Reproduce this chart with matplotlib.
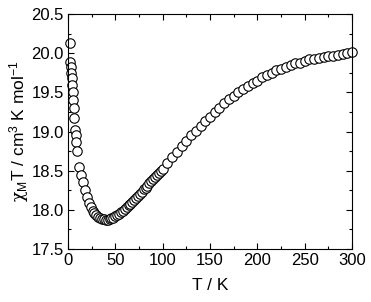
import matplotlib
matplotlib.use('Agg')
import matplotlib.pyplot as plt
from matplotlib.ticker import MultipleLocator

plt.rcParams['font.family'] = ['Liberation Sans', 'DejaVu Sans']
plt.rcParams['mathtext.fontset'] = 'custom'
plt.rcParams['mathtext.rm'] = 'Liberation Sans'
plt.rcParams['mathtext.it'] = 'Liberation Sans:italic'
plt.rcParams['mathtext.sf'] = 'DejaVu Serif'

# low temperature upturn
T_low = [2, 2.5, 3, 3.5, 4, 4.5, 5, 5.5, 6, 6.5, 7.5, 8.5, 9, 10, 12]
chi_low = [20.13, 19.89, 19.82, 19.75, 19.68, 19.59, 19.50, 19.40, 19.30, 19.17,
           19.02, 18.95, 18.86, 18.75, 18.55]

# dense region around the minimum
T_mid = [14, 16, 18, 20, 22, 24, 26, 28, 30, 32, 34, 36, 38, 40, 42, 44, 46, 48,
         50, 52, 54, 56, 58, 60, 62, 64, 66, 68, 70, 72, 74, 76, 78, 80, 82, 84,
         86, 88, 90, 92, 94, 96, 98]
chi_mid = [18.45, 18.35, 18.25, 18.16, 18.09, 18.03, 17.99, 17.96, 17.93, 17.91,
           17.90, 17.88, 17.88, 17.87, 17.87, 17.88, 17.89, 17.90, 17.92, 17.94,
           17.95, 17.97, 17.99, 18.01, 18.03, 18.06, 18.08, 18.10, 18.13, 18.15,
           18.18, 18.20, 18.23, 18.26, 18.28, 18.31, 18.34, 18.37, 18.39, 18.42,
           18.45, 18.47, 18.50]

# high temperature, 5 K steps
T_high = [100, 105, 110, 115, 120, 125, 130, 135, 140, 145, 150, 155, 160, 165,
          170, 175, 180, 185, 190, 195, 200, 205, 210, 215, 220, 225, 230, 235,
          240, 245, 250, 255, 260, 265, 270, 275, 280, 285, 290, 295, 300]
chi_high = [18.52, 18.60, 18.67, 18.74, 18.81, 18.88, 18.95, 19.01, 19.07, 19.13,
            19.19, 19.25, 19.30, 19.36, 19.41, 19.45, 19.50, 19.54, 19.58, 19.62,
            19.65, 19.69, 19.72, 19.75, 19.78, 19.80, 19.83, 19.85, 19.87, 19.88,
            19.90, 19.92, 19.93, 19.94, 19.95, 19.96, 19.97, 19.98, 19.99, 20.00,
            20.01]

T = T_low + T_mid + T_high
chiT = chi_low + chi_mid + chi_high

fig = plt.figure(figsize=(3.71, 3.02), dpi=100)
ax = fig.add_axes([0.183, 0.1755, 0.766, 0.778])

ax.plot(T, chiT, 'o', mfc='white', mec='black', ms=6.8, mew=0.8, clip_on=False)

ax.set_xlim(0, 300)
ax.set_ylim(17.5, 20.5)
ax.xaxis.set_major_locator(MultipleLocator(50))
ax.xaxis.set_minor_locator(MultipleLocator(25))
ax.yaxis.set_major_locator(MultipleLocator(0.5))
ax.yaxis.set_minor_locator(MultipleLocator(0.25))
ax.yaxis.set_major_formatter(plt.FormatStrFormatter('%.1f'))
ax.tick_params(which='both', direction='in', top=True, right=True, labelsize=12)
ax.tick_params(which='major', length=4, width=0.8, pad=3)
ax.tick_params(which='minor', length=2.5, width=0.8)
for s in ax.spines.values():
    s.set_linewidth(0.8)

ax.set_xlabel('T / K', fontsize=12.5, labelpad=7)
ax.set_ylabel(r'$\mathsf{\chi}_\mathrm{M}$T / cm$^3$ K mol$^{-1}$', fontsize=12.5, labelpad=0)

fig.savefig('out.png', dpi=100)
